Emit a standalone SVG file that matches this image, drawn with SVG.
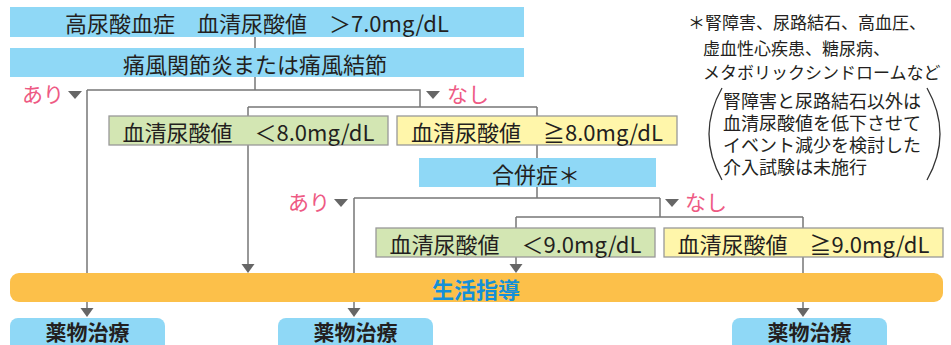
<svg xmlns="http://www.w3.org/2000/svg" xmlns:xlink="http://www.w3.org/1999/xlink" width="951" height="345" viewBox="0 0 951 345">
<style>
text{font-family:"Noto Sans CJK JP","Noto Sans",sans-serif;}
.t{font-size:22px;fill:#231f20;text-anchor:middle;dominant-baseline:central;}
.yes{font-size:21px;fill:#ee5a84;dominant-baseline:central;}
.note{font-size:17px;fill:#231f20;}
.blue{fill:#8fd8f6;}
.green{fill:#d3e6b3;stroke:#999;stroke-width:1.3;}
.yellow{fill:#fff6aa;stroke:#999;stroke-width:1.3;}
.ln{stroke:#777;stroke-width:1.5;fill:none;}
.ah{fill:#666;}
.drug{fill:#8fd8f6;}
.bold{font-weight:bold;}
.dt{font-size:21px;}
</style>
<defs>
<polygon id="arr" points="-6.5,-9 6.5,-9 0,0"/>
<polygon id="tri" points="-7,-4 7,-4 0,4"/>
</defs>
<g id="connectors">
<path class="ln" d="M255,37V48M255,77V90M87,90H420V107M87,90V308M248,107H537M248,107V264M537,107V116M537,145V158M537,187V198M354,198H660M354,198V308M660,198V217M516,217H803M516,217V228M516,257V264M803,217V228M803,257V308"/>
<use xlink:href="#arr" class="ah" x="87" y="317"/>
<use xlink:href="#arr" class="ah" x="248" y="273"/>
<use xlink:href="#arr" class="ah" x="354" y="317"/>
<use xlink:href="#arr" class="ah" x="516" y="273"/>
<use xlink:href="#arr" class="ah" x="803" y="317"/>
<use xlink:href="#tri" class="ah" x="75" y="95"/>
<use xlink:href="#tri" class="ah" x="433" y="95"/>
<use xlink:href="#tri" class="ah" x="341" y="203"/>
<use xlink:href="#tri" class="ah" x="672" y="203"/>
<text class="yes" x="22" y="93">あり</text>
<text class="yes" x="447" y="93">なし</text>
<text class="yes" x="288" y="201">あり</text>
<text class="yes" x="685" y="201">なし</text>
</g>
<g id="n-hyperuricemia">
<rect class="blue" x="10" y="7" width="514" height="30"/>
<text class="t" x="257" y="22">高尿酸血症　血清尿酸値　＞7.0mg/dL</text>
</g>
<g id="n-gout">
<rect class="blue" x="10" y="48" width="514" height="29"/>
<text class="t" x="255" y="62.5">痛風関節炎または痛風結節</text>
</g>
<g id="n-lt8">
<rect class="green" x="109" y="116" width="279" height="29"/>
<text class="t" x="248.5" y="130.5">血清尿酸値　＜8.0mg/dL</text>
</g>
<g id="n-ge8">
<rect class="yellow" x="397" y="116" width="280" height="29"/>
<text class="t" x="537" y="130.5">血清尿酸値　≧8.0mg/dL</text>
</g>
<g id="n-complication">
<rect class="blue" x="419" y="158" width="237" height="29"/>
<text class="t" x="536" y="172.5">合併症＊</text>
</g>
<g id="n-lt9">
<rect class="green" x="376" y="228" width="279" height="29"/>
<text class="t" x="515.5" y="242.5">血清尿酸値　＜9.0mg/dL</text>
</g>
<g id="n-ge9">
<rect class="yellow" x="664" y="228" width="279" height="29"/>
<text class="t" x="803.5" y="242.5">血清尿酸値　≧9.0mg/dL</text>
</g>
<g id="n-lifestyle">
<rect x="10" y="273" width="933" height="29" rx="9" fill="#fcc04a"/>
<text class="t bold" x="476" y="287.5" style="fill:#1490d8">生活指導</text>
</g>
<g id="n-drug1">
<rect class="drug" x="10" y="318" width="155" height="40" rx="8"/>
<text class="t bold dt" x="87.5" y="330.5">薬物治療</text>
</g>
<g id="n-drug2">
<rect class="drug" x="278" y="318" width="155" height="40" rx="8"/>
<text class="t bold dt" x="355.5" y="330.5">薬物治療</text>
</g>
<g id="n-drug3">
<rect class="drug" x="732" y="318" width="155" height="40" rx="8"/>
<text class="t bold dt" x="809.5" y="330.5">薬物治療</text>
</g>
<g id="note">
<text class="note"><tspan x="688" y="29">＊腎障害、尿路結石、高血圧、</tspan><tspan x="703" y="55">虚血性心疾患、糖尿病、</tspan><tspan x="703" y="79">メタボリックシンドロームなど</tspan></text>
<text class="note" style="font-size:18px"><tspan x="723" y="108">腎障害と尿路結石以外は</tspan><tspan x="723" y="130">血清尿酸値を低下させて</tspan><tspan x="723" y="152">イベント減少を検討した</tspan><tspan x="723" y="174">介入試験は未施行</tspan></text>
<path d="M722,88Q696,134 722,180M927,88Q953,134 927,180" fill="none" stroke="#333" stroke-width="1.3"/>
</g>
</svg>
